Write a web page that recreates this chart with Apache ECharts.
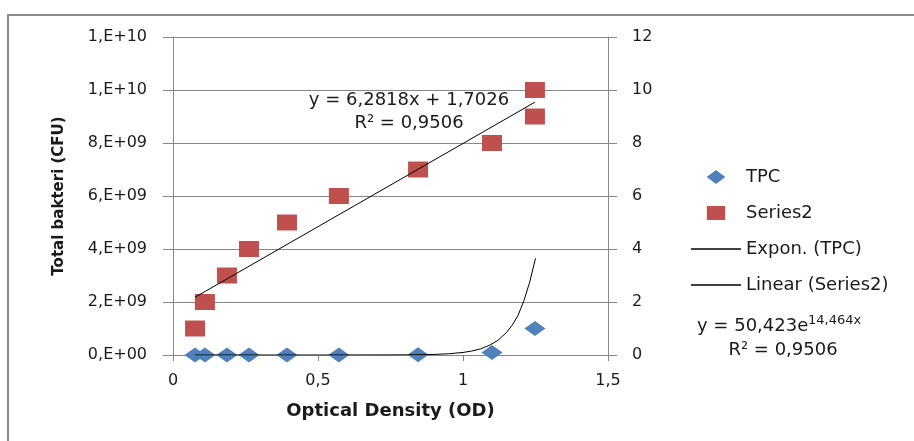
<!DOCTYPE html>
<html><head><meta charset="utf-8">
<script src="https://cdn.jsdelivr.net/npm/echarts@6/dist/echarts.min.js"></script>
<style>html,body{margin:0;padding:0;background:#fff}#c{width:914px;height:441px}</style>
</head><body><div id="c"></div>
<script>
// TPC (left axis, CFU)
const tpcOD  = [0.076, 0.11, 0.186, 0.262, 0.393, 0.572, 0.845, 1.1, 1.248];
const tpcCFU = [1e2, 2e2, 1e3, 4e3, 2e4, 1e5, 5e6, 9e7, 1.0e9];
// Series2 (right axis)
const s2OD  = [0.076, 0.11, 0.186, 0.262, 0.393, 0.572, 0.845, 1.1, 1.248, 1.248];
const s2Val = [1, 2, 3, 4, 5, 6, 7, 8, 9, 10];
// Exponential trendline of TPC
const expOD  = [0.076, 0.5, 0.8, 0.9, 0.95, 1.0, 1.03, 1.06, 1.09, 1.12, 1.15, 1.17, 1.19, 1.21, 1.23, 1.25];
const expCFU = [0, 0, 5e6, 2.2e7, 4.6e7, 9.6e7, 1.5e8, 2.3e8, 3.6e8, 5.5e8, 8.5e8, 1.13e9, 1.5e9, 2.05e9, 2.75e9, 3.65e9];
// Linear trendline of Series2, end points
const linOD  = [0.076, 1.248];
const linVal = [2.18, 9.54];
// Names and annotation texts
const legendNames = ['TPC', 'Series2', 'Expon. (TPC)', 'Linear (Series2)'];
const linEq = 'y = 6,2818x + 1,7026';
const linR2 = 'R² = 0,9506';
const expEqMain = 'y = 50,423e';
const expEqSup = '14,464x';
const expR2 = 'R² = 0,9506';

const FONT = 'DejaVu Sans';
const TXT = '#1a1a1a';
const AX = '#878787';

function sci(v) {
  if (v === 0) return '0,E+00';
  const e = Math.floor(Math.log10(v) + 1e-9);
  const m = Math.round(v / Math.pow(10, e));
  return m + ',E+' + (e < 10 ? '0' + e : e);
}
const zip = (a, b) => a.map((x, i) => [x, b[i]]);

const chart = echarts.init(document.getElementById('c'));
chart.setOption({
  animation: false,
  backgroundColor: '#fff',
  textStyle: { fontFamily: FONT },
  grid: { left: 173, right: 306, top: 37, bottom: 86 },
  xAxis: {
    type: 'value', min: 0, max: 1.5, interval: 0.5,
    name: 'Optical Density (OD)', nameLocation: 'middle', nameGap: 47,
    nameTextStyle: { fontFamily: FONT, fontSize: 18, fontWeight: 'bold', color: TXT },
    axisLine: { show: true, onZero: false, lineStyle: { color: AX, width: 1 } },
    axisTick: { show: true, length: 6, lineStyle: { color: AX } },
    splitLine: { show: false },
    axisLabel: { margin: 18, fontFamily: FONT, fontSize: 16, color: TXT,
      formatter: v => String(v).replace('.', ',') }
  },
  yAxis: [
    {
      type: 'value', min: 0, max: 1.2e10, interval: 2e9, position: 'left',
      name: 'Total bakteri (CFU)', nameLocation: 'middle', nameGap: 106,
      nameTextStyle: { fontFamily: FONT, fontSize: 15, fontWeight: 'bold', color: TXT },
      axisLine: { show: true, lineStyle: { color: AX, width: 1 } },
      axisTick: { show: true, length: 10, lineStyle: { color: AX } },
      splitLine: { show: true, lineStyle: { color: AX, width: 1 } },
      axisLabel: { margin: 26, fontFamily: FONT, fontSize: 16, color: TXT, formatter: sci }
    },
    {
      type: 'value', min: 0, max: 12, interval: 2, position: 'right',
      axisLine: { show: true, lineStyle: { color: AX, width: 1 } },
      axisTick: { show: true, length: 9, lineStyle: { color: AX } },
      splitLine: { show: false },
      axisLabel: { margin: 24, fontFamily: FONT, fontSize: 16, color: TXT }
    }
  ],
  legend: {
    orient: 'vertical', left: 686, top: 163,
    itemWidth: 50, itemHeight: 14, itemGap: 18,
    selectedMode: false,
    textStyle: { fontFamily: FONT, fontSize: 18, color: TXT },
    data: [
      { name: legendNames[0], icon: 'path://M8,0L16,6L8,12L0,6Z', itemStyle: { color: '#4F81BD', borderWidth: 0, opacity: 1 } },
      { name: legendNames[1], icon: 'path://M0,0H17V13H0Z', itemStyle: { color: '#C0504D', borderWidth: 0, opacity: 1 } },
      { name: legendNames[2], icon: 'path://M0,0H50V1.4H0Z', itemStyle: { color: '#000', borderWidth: 0 } },
      { name: legendNames[3], icon: 'path://M0,0H50V1.4H0Z', itemStyle: { color: '#000', borderWidth: 0 } }
    ]
  },
  graphic: [
    { type: 'rect', z: -10, silent: true, shape: { x: 8, y: 15, width: 1000, height: 500 },
      style: { fill: 'none', stroke: '#8c8c8c', lineWidth: 2 } },
    { type: 'text', x: 409, y: 100, silent: true,
      style: { text: linEq, font: '18px "DejaVu Sans"', fill: TXT, align: 'center', verticalAlign: 'middle' } },
    { type: 'text', x: 409, y: 123, silent: true,
      style: { text: linR2, font: '18px "DejaVu Sans"', fill: TXT, align: 'center', verticalAlign: 'middle' } },
    { type: 'text', x: 697, y: 326, silent: true,
      style: { text: expEqMain, font: '18px "DejaVu Sans"', fill: TXT, align: 'left', verticalAlign: 'middle' } },
    { type: 'text', x: 808, y: 321, silent: true,
      style: { text: expEqSup, font: '13px "DejaVu Sans"', fill: TXT, align: 'left', verticalAlign: 'middle' } },
    { type: 'text', x: 783, y: 350, silent: true,
      style: { text: expR2, font: '18px "DejaVu Sans"', fill: TXT, align: 'center', verticalAlign: 'middle' } }
  ],
  series: [
    { name: legendNames[1], type: 'scatter', yAxisIndex: 1, symbol: 'rect', symbolSize: [20, 16],
      itemStyle: { color: '#C0504D', opacity: 1 }, data: zip(s2OD, s2Val), z: 3 },
    { name: legendNames[0], type: 'scatter', yAxisIndex: 0, symbol: 'diamond', symbolSize: [21, 15],
      itemStyle: { color: '#4F81BD', opacity: 1 }, data: zip(tpcOD, tpcCFU), z: 4 },
    { name: legendNames[2], type: 'line', yAxisIndex: 0, symbol: 'none', smooth: false,
      color: '#000', lineStyle: { color: '#000', width: 1 }, data: zip(expOD, expCFU), z: 5 },
    { name: legendNames[3], type: 'line', yAxisIndex: 1, symbol: 'none',
      color: '#000', lineStyle: { color: '#000', width: 1 }, data: zip(linOD, linVal), z: 5 }
  ]
});
</script></body></html>
